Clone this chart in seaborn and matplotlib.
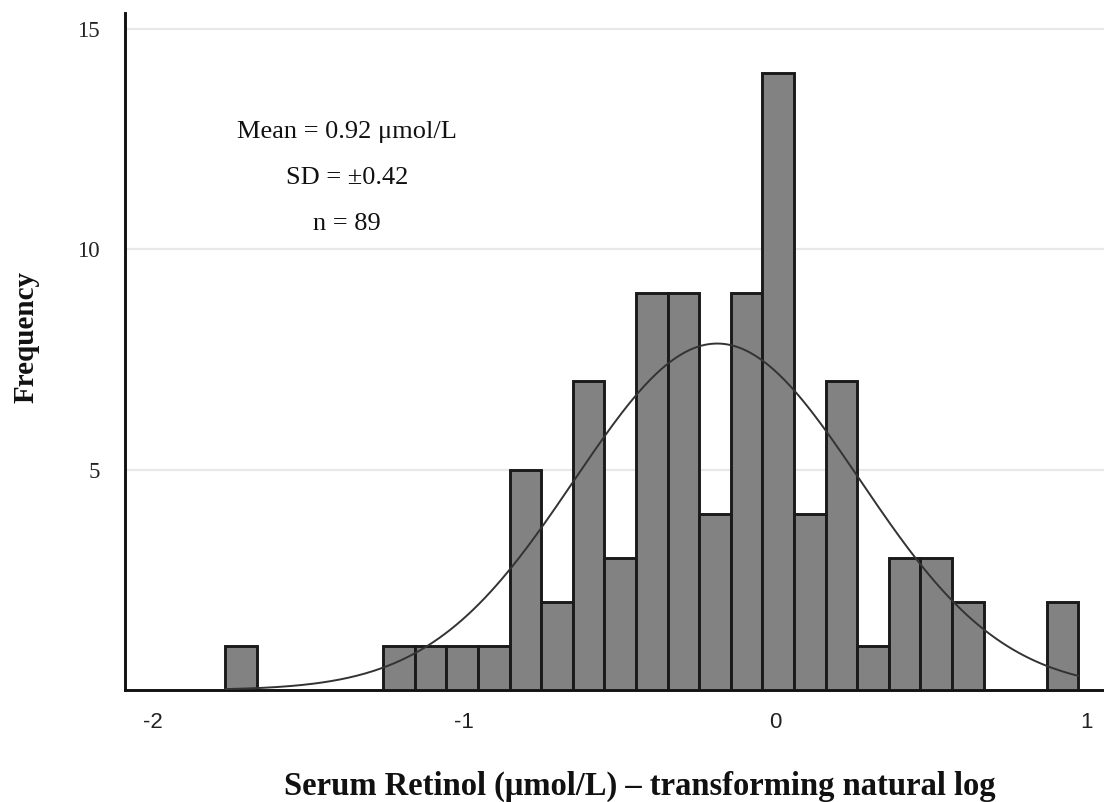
import numpy as np
import pandas as pd
import matplotlib
matplotlib.use("Agg")
import matplotlib.pyplot as plt
import seaborn as sns

# ---- data ----
bin_start = -1.7675     # left edge of the first bin (log µmol/L)
bin_width = 0.1016      # width of each bin
counts = [1, 0, 0, 0, 0, 1, 1, 1, 1, 5, 2, 7, 3, 9, 9, 4, 9, 14, 4, 7, 1, 3, 3, 2, 0, 0, 2]
x_ticks = [-2, -1, 0, 1]
y_ticks = [5, 10, 15]
stats_lines = ["Mean = 0.92 \u03bcmol/L", "SD = \u00b10.42", "n = 89"]
x_label = "Serum Retinol (\u03bcmol/L) \u2013 transforming natural log"
y_label = "Frequency"

# ---- build table ----
n_bins = len(counts)
edges = bin_start + bin_width * np.arange(n_bins + 1)
centers = (edges[:-1] + edges[1:]) / 2
df = pd.DataFrame({"value": centers, "count": counts})

# normal curve from the binned data (as SPSS overlays)
n_total = df["count"].sum()
mu = np.average(df["value"], weights=df["count"])
sd = np.sqrt(np.sum(df["count"] * (df["value"] - mu) ** 2) / (n_total - 1))
xs = np.linspace(edges[0], edges[-1], 300)
ys = n_total * bin_width * np.exp(-0.5 * ((xs - mu) / sd) ** 2) / (sd * np.sqrt(2 * np.pi))
curve = pd.DataFrame({"x": xs, "y": ys})

# ---- plot ----
sns.set_theme(style="white")
serif = ["Liberation Serif", "DejaVu Serif"]
sans = ["Liberation Sans", "DejaVu Sans"]

fig = plt.figure(figsize=(11.04, 8.02), dpi=100)
ax = fig.add_axes([125 / 1104, 1 - 690 / 802, 1 - 125 / 1104, (690 - 13) / 802])

sns.histplot(data=df, x="value", weights="count", bins=edges.tolist(), ax=ax,
             color="#828282", alpha=1.0, edgecolor="#1a1a1a", linewidth=2.1,
             zorder=3)
sns.lineplot(data=curve, x="x", y="y", ax=ax, color="#333333", linewidth=1.4,
             zorder=4)

ax.set_xlim((125 - 775) / 311, (1104 - 775) / 311)
ax.set_ylim(0, 15.36)

ax.set_yticks(y_ticks)
ax.set_yticklabels([str(t) for t in y_ticks], fontfamily=serif, fontsize=16.5)
ax.set_xticks(x_ticks)
ax.set_xticklabels([str(t) for t in x_ticks], fontfamily=sans, fontsize=16)
ax.tick_params(axis="both", length=0, colors="#222222")
ax.tick_params(axis="y", pad=18)
ax.tick_params(axis="x", pad=16)

ax.yaxis.grid(True, color="#e8e8e8", linewidth=1.6, zorder=0)
ax.xaxis.grid(False)
ax.set_axisbelow(True)

for s in ["top", "right"]:
    ax.spines[s].set_visible(False)
for s in ["left", "bottom"]:
    ax.spines[s].set_color("#111111")
    ax.spines[s].set_linewidth(2.1)

ax.set_xlabel("")
ax.set_ylabel("")
fig.text(640 / 1104, 1 - 795 / 802, x_label, ha="center", va="baseline",
         fontsize=23.5, fontweight="bold", fontfamily=serif, color="#111111")
fig.text(26 / 1104, 1 - 337 / 802, y_label, ha="center", va="center",
         rotation=90, fontsize=21, fontweight="bold", fontfamily=serif,
         color="#111111")

for i, line in enumerate(stats_lines):
    fig.text(347 / 1104, 1 - (138 + 46 * i) / 802, line, ha="center",
             va="baseline", fontsize=19, fontfamily=serif, color="#111111")

fig.savefig("out.png", dpi=100)
